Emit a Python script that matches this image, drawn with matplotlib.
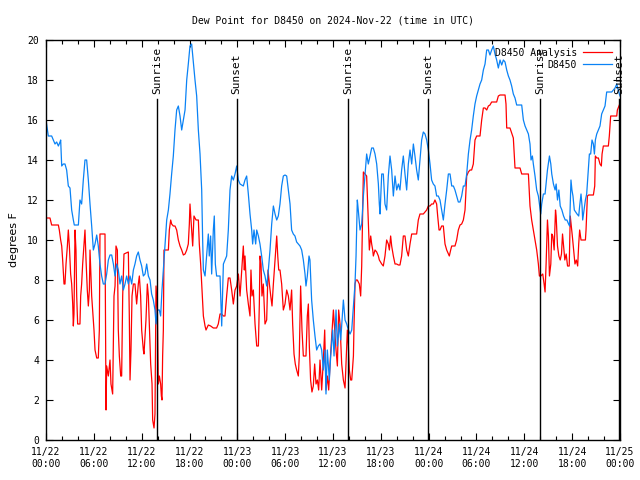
import matplotlib
matplotlib.use("Agg")
import matplotlib.pyplot as plt
from matplotlib.ticker import MultipleLocator

# hours after 2024-11-22 00:00 UTC, dew point in degrees F
obs_hours = [
    0, 0.29, 0.71, 0.92, 1.13, 1.34, 1.55, 1.76, 1.84, 1.97, 2.17, 2.38, 2.59, 2.80, 3.01,
    3.22, 3.43, 3.55, 4.06, 4.26, 4.47, 4.68, 4.89, 5.10, 5.31, 5.52, 5.73, 5.94, 6.15,
    6.36, 6.56, 6.77, 6.98, 7.19, 7.40, 7.61, 7.82, 8.03, 8.24, 8.45, 8.66, 8.86, 9.07,
    9.28, 9.49, 9.70, 9.91, 10.12, 10.33, 10.54, 10.75, 10.96, 11.16, 11.37, 11.58, 11.79,
    12.00, 12.21, 12.42, 12.63, 12.84, 13.05, 13.25, 13.46, 13.67, 13.80, 13.97, 14.22,
    14.38, 14.55, 14.72, 14.93, 15.14, 15.35, 15.55, 15.76, 15.97, 16.18, 16.39, 16.60,
    16.81, 17.02, 17.23, 17.44, 17.65, 17.85, 18.06, 18.27, 18.48, 18.69, 18.90, 19.11,
    19.32, 19.53, 19.65, 19.74, 19.95, 20.15, 20.36, 20.48, 20.65, 20.78, 20.99, 21.11,
    21.24, 21.40, 21.83, 22.04, 22.25, 22.45, 22.66, 22.87, 23.08, 23.29, 23.50, 23.71,
    23.92, 24.13, 24.34, 24.55, 24.75, 24.96, 25.17, 25.38, 25.59, 25.80, 25.92, 26.09,
    26.30, 26.43, 26.64, 26.84, 27.05, 27.26, 27.47, 27.68, 27.89, 28.10, 28.31, 28.52,
    28.73, 28.94, 29.14, 29.35, 29.56, 29.77, 29.98, 30.19, 30.40, 30.61, 30.81, 31.02,
    31.23, 31.44, 31.65, 31.86, 32.07, 32.28, 32.49, 32.61, 32.78, 32.99, 33.11, 33.32,
    33.53, 33.74, 33.95, 34.16, 34.37, 34.58, 34.79, 35.00, 35.12, 35.29, 35.54, 35.71,
    35.96, 36.13, 36.38, 36.55, 36.80, 36.97, 37.30, 37.51, 37.72, 37.93, 38.14, 38.35,
    38.56, 38.76, 38.89, 39.05, 39.17, 39.39, 39.60, 39.81, 40.01, 40.22, 40.43, 40.64,
    40.85, 41.06, 41.27, 41.48, 41.69, 41.81, 41.90, 42.11, 42.31, 42.52, 42.73, 42.94,
    43.15, 43.36, 43.57, 43.78, 43.99, 44.20, 44.40, 44.61, 44.82, 45.03, 45.24, 45.45,
    45.66, 45.87, 46.08, 46.28, 46.49, 46.70, 46.91, 47.12, 47.33, 47.54, 47.75, 47.96,
    48.17, 48.37, 48.58, 48.79, 49.00, 49.21, 49.42, 49.63, 49.84, 50.05, 50.26, 50.47,
    50.68, 50.89, 51.10, 51.30, 51.51, 51.72, 51.93, 52.14, 52.35, 52.56, 52.77, 52.98,
    53.19, 53.39, 53.60, 53.81, 54.02, 54.23, 54.44, 54.65, 54.86, 55.07, 55.28, 55.49,
    55.69, 55.90, 56.11, 56.32, 56.53, 56.74, 56.95, 57.16, 57.37, 57.58, 57.79, 58.00,
    58.20, 58.41, 58.62, 58.83, 59.04, 59.46, 59.67, 59.88, 60.09, 60.30, 60.51, 60.71,
    60.84, 61.01, 61.13, 61.34, 61.55, 61.76, 61.89, 62.06, 62.18, 62.39, 62.60, 62.73,
    62.90, 63.07, 63.15, 63.32, 63.44, 63.65, 63.86, 63.99, 64.16, 64.33, 64.50, 64.71,
    64.92, 65.13, 65.34, 65.55, 65.68, 65.85, 65.97, 66.10, 66.27, 66.44, 66.61, 66.82,
    66.94, 67.11, 67.24, 67.32, 67.49, 67.66, 67.82, 68.03, 68.16, 68.32, 68.49, 68.66,
    68.79, 68.91, 69.08, 69.29, 69.49, 69.70, 69.91, 70.12, 70.33, 70.96, 71.17, 71.38,
    71.59, 71.72, 71.84, 72.0,
]
obs_dewpt = [
    16.0, 15.2, 15.2, 15.0, 14.8, 14.9, 14.7, 14.9, 15.0, 13.7, 13.8, 13.8, 13.5, 12.7, 12.6,
    11.5, 11.0, 10.75, 10.75, 12.0, 11.8, 13.0, 14.0, 14.0, 13.0, 11.8, 10.7, 9.5, 9.8,
    10.25, 9.7, 8.8, 8.2, 7.8, 7.8, 8.3, 9.0, 9.25, 9.25, 8.8, 8.2, 8.8, 8.5,
    7.8, 8.2, 7.5, 7.8, 8.2, 7.8, 8.2, 7.8, 8.5, 8.8, 9.2, 9.4, 9.0,
    8.7, 8.2, 8.3, 8.8, 8.2, 8.0, 7.3, 7.0, 6.5, 5.8, 6.5, 6.5,
    6.2, 7.5, 8.5, 9.8, 11.0, 11.5, 12.3, 13.3, 14.2, 15.5, 16.5, 16.7,
    16.2, 15.5, 16.0, 16.5, 18.0, 18.8, 19.7, 19.8, 18.9, 18.0, 17.2, 15.5,
    14.3, 12.5, 10.0, 8.5, 8.2, 9.2, 10.3, 9.2, 10.2, 8.3, 10.5, 11.2,
    8.8, 8.2, 8.2, 5.7, 8.8, 9.0, 9.2, 10.5, 12.5, 13.2, 13.0, 13.3,
    13.7, 13.0, 12.8, 12.75, 12.7, 13.0, 13.2, 12.3, 11.3, 10.5, 9.8, 10.5,
    9.8, 10.5, 10.2, 9.8, 9.2, 8.5, 8.2, 7.7, 8.5, 9.5, 10.8, 11.7,
    11.3, 11.0, 11.2, 11.8, 12.7, 13.2, 13.25, 13.2, 12.5, 11.8, 10.5, 10.3,
    10.2, 9.9, 9.8, 9.7, 9.5, 9.0, 8.3, 7.7, 8.2, 9.2, 9.0, 7.0,
    6.0, 5.2, 4.5, 4.7, 4.8, 4.5, 3.5, 4.5, 2.3, 4.5, 3.0, 4.2,
    5.5, 4.2, 6.5, 4.7, 5.8, 5.0, 7.0, 6.0, 5.8, 5.5, 5.3, 5.5,
    6.7, 7.8, 9.2, 12.0, 11.5, 10.5, 10.8, 12.2, 13.2, 14.3, 13.8, 14.2,
    14.6, 14.6, 14.3, 13.8, 12.8, 11.8, 11.3, 13.3, 13.3, 11.8, 11.5, 13.2,
    14.2, 13.5, 12.2, 13.2, 12.5, 12.8, 12.5, 13.5, 14.2, 13.3, 12.5, 13.8,
    14.5, 13.8, 14.8, 14.2, 13.5, 13.0, 14.0, 15.0, 15.4, 15.3, 15.0, 14.5,
    13.8, 13.0, 12.8, 12.7, 12.2, 12.2, 12.0, 11.5, 11.0, 11.8, 12.5, 13.3,
    13.3, 12.7, 12.7, 12.5, 12.2, 11.9, 11.9, 12.2, 12.7, 12.7, 13.3, 14.3,
    15.0, 15.5, 16.2, 16.8, 17.2, 17.5, 17.8, 18.0, 18.5, 18.8, 19.5, 19.5,
    19.25, 19.5, 19.7, 19.3, 19.0, 18.6, 19.0, 18.75, 19.0, 18.9, 18.5, 18.2,
    18.0, 17.7, 17.3, 17.1, 16.75, 16.75, 16.75, 16.0, 15.7, 15.5, 15.3, 14.8,
    14.0, 14.2, 13.8, 13.2, 12.5, 12.2, 11.8, 11.3, 11.8, 12.3, 12.3, 12.8,
    13.5, 14.0, 14.2, 13.8, 13.3, 12.8, 12.5, 12.8, 12.0, 12.5, 11.7, 11.5,
    11.2, 11.0, 11.0, 10.8, 10.7, 13.0, 12.5, 12.2, 11.5, 11.4, 11.3, 11.2,
    11.7, 12.3, 11.7, 11.0, 11.5, 12.0, 12.3, 13.5, 14.3, 14.3, 15.0, 14.8,
    14.3, 15.0, 15.3, 15.5, 15.7, 16.3, 16.5, 16.7, 17.4, 17.4, 17.5, 17.6,
    17.8, 17.6, 17.4, 17.2,
]

ana_hours = [
    0, 0.50, 0.71, 1.55, 1.67, 1.84, 1.97, 2.09, 2.26, 2.38, 2.51, 2.68, 2.80, 2.93, 3.09,
    3.22, 3.35, 3.43, 3.51, 3.64, 3.76, 3.85, 3.97, 4.26, 4.35, 4.47, 4.60, 4.77, 4.89,
    5.02, 5.18, 5.31, 5.44, 5.52, 5.73, 5.85, 6.02, 6.15, 6.36, 6.56, 6.69, 6.77, 7.40,
    7.53, 7.61, 7.82, 8.03, 8.15, 8.36, 8.53, 8.66, 8.78, 8.95, 9.07, 9.20, 9.37, 9.49,
    9.62, 9.78, 10.33, 10.45, 10.54, 10.66, 10.79, 10.96, 11.16, 11.37, 11.58, 11.71,
    11.87, 12.00, 12.21, 12.29, 12.42, 12.54, 12.71, 12.84, 12.96, 13.13, 13.30, 13.38,
    13.55, 13.67, 13.80, 13.97, 14.09, 14.22, 14.38, 14.47, 14.55, 14.63, 14.72, 14.80,
    15.35, 15.47, 15.64, 15.76, 15.97, 16.18, 16.39, 16.60, 16.81, 17.02, 17.23, 17.44,
    17.65, 17.85, 17.98, 18.06, 18.27, 18.40, 18.56, 18.82, 19.11, 19.23, 19.40, 19.57,
    19.74, 19.95, 20.07, 20.36, 20.65, 20.99, 21.40, 21.61, 21.83, 22.04, 22.25, 22.45,
    22.66, 22.87, 23.08, 23.29, 23.50, 23.71, 23.92, 24.13, 24.34, 24.55, 24.75, 24.88,
    24.96, 25.17, 25.38, 25.59, 25.71, 25.84, 26.01, 26.22, 26.43, 26.64, 26.76, 26.84,
    26.97, 27.09, 27.26, 27.47, 27.68, 27.85, 28.02, 28.19, 28.35, 28.52, 28.73, 28.94,
    29.07, 29.19, 29.35, 29.56, 29.77, 29.98, 30.19, 30.40, 30.61, 30.81, 30.94, 31.11,
    31.27, 31.44, 31.65, 31.77, 31.94, 32.11, 32.28, 32.49, 32.61, 32.78, 32.91, 33.03,
    33.19, 33.36, 33.53, 33.70, 33.87, 34.04, 34.20, 34.37, 34.58, 34.79, 34.96, 35.12,
    35.29, 35.46, 35.63, 35.84, 36.05, 36.21, 36.38, 36.55, 36.71, 36.88, 37.09, 37.30,
    37.51, 37.63, 37.80, 37.93, 38.05, 38.22, 38.35, 38.56, 38.64, 38.76, 38.89, 39.05,
    39.30, 39.47, 39.60, 39.72, 39.81, 40.01, 40.22, 40.35, 40.47, 40.56, 40.73, 40.85,
    40.98, 41.06, 41.27, 41.48, 41.69, 41.81, 42.11, 42.31, 42.52, 42.73, 42.94, 43.07,
    43.23, 43.36, 43.57, 43.78, 43.99, 44.20, 44.40, 44.61, 44.82, 45.03, 45.24, 45.45,
    45.66, 45.87, 46.49, 46.70, 46.91, 47.33, 47.54, 47.75, 47.96, 48.17, 48.37, 48.58,
    48.79, 49.00, 49.13, 49.30, 49.42, 49.63, 49.84, 50.05, 50.26, 50.47, 50.59, 50.76,
    50.89, 51.30, 51.51, 51.72, 51.93, 52.14, 52.35, 52.56, 52.77, 52.98, 53.19, 53.39,
    53.60, 53.81, 54.02, 54.44, 54.65, 54.86, 55.07, 55.28, 55.49, 55.69, 55.90, 56.53,
    56.74, 56.95, 57.58, 57.70, 57.79, 58.20, 58.62, 58.75, 58.83, 59.46, 59.67, 60.51,
    60.71, 60.92, 61.13, 61.34, 61.55, 61.76, 61.89, 62.06, 62.31, 62.48, 62.60, 62.73,
    62.90, 63.02, 63.15, 63.32, 63.44, 63.57, 63.74, 63.91, 63.99, 64.16, 64.33, 64.50,
    64.66, 64.79, 64.92, 65.08, 65.25, 65.42, 65.63, 65.76, 65.89, 66.02, 66.18, 66.35,
    66.52, 66.69, 66.82, 66.94, 67.11, 67.66, 67.74, 67.91, 68.07, 68.66, 68.83, 68.91,
    69.08, 69.29, 69.49, 69.66, 69.75, 69.91, 70.54, 70.66, 70.83, 71.59, 71.67, 71.92,
]
ana_dewpt = [
    11.1, 11.1, 10.75, 10.75, 10.5, 10.0, 9.7, 9.0, 7.8, 7.8, 8.8, 9.7, 10.5, 9.7, 8.3,
    7.8, 6.8, 5.7, 6.3, 10.5, 9.5, 7.2, 5.8, 5.8, 7.2, 7.8, 8.8, 9.8, 10.5,
    9.0, 7.5, 6.7, 7.5, 9.5, 7.2, 6.5, 5.5, 4.5, 4.1, 4.1, 5.5, 10.3, 10.3,
    1.5, 3.7, 3.2, 4.0, 2.8, 2.3, 7.2, 7.7, 9.7, 9.5, 5.5, 4.2, 3.2, 3.2,
    7.2, 9.3, 9.4, 6.2, 3.0, 4.5, 7.2, 7.8, 7.8, 6.8, 7.8, 8.2,
    7.2, 5.5, 4.5, 4.3, 5.2, 6.0, 7.8, 7.2, 5.8, 3.8, 2.8, 1.0,
    0.6, 1.3, 7.7, 6.5, 2.8, 3.2, 2.8, 2.2, 2.0, 4.2, 5.5, 9.5,
    9.5, 10.5, 11.0, 10.8, 10.7, 10.7, 10.5, 10.0, 9.7, 9.5, 9.25, 9.3,
    9.5, 9.8, 10.8, 11.8, 10.5, 9.7, 11.2, 11.0, 11.0, 9.8, 8.8, 7.5,
    6.2, 5.7, 5.5, 5.75, 5.7, 5.6, 5.6, 5.8, 6.3, 6.3, 6.2, 6.2,
    7.2, 8.1, 8.1, 7.5, 6.8, 7.5, 7.7, 8.3, 7.2, 8.5, 9.7, 8.5,
    9.2, 7.5, 6.8, 6.2, 8.5, 7.2, 7.5, 5.8, 4.7, 4.7, 6.8, 9.2,
    8.8, 7.2, 7.8, 5.8, 6.0, 8.5, 7.8, 7.2, 6.7, 7.8, 9.0, 10.2,
    9.2, 8.5, 8.5, 7.8, 6.5, 6.8, 7.5, 7.2, 6.5, 7.5, 5.8, 4.3,
    3.8, 3.5, 3.2, 4.2, 7.7, 5.5, 4.2, 4.2, 4.2, 6.2, 6.8, 4.7,
    3.0, 2.4, 2.7, 3.8, 2.8, 3.0, 2.5, 4.0, 2.5, 4.0, 5.5, 2.5,
    3.2, 2.5, 3.8, 5.2, 6.5, 5.5, 4.5, 3.7, 6.5, 5.8, 3.8, 3.0,
    2.6, 3.8, 5.5, 4.7, 3.5, 3.0, 3.0, 4.2, 5.8, 7.8, 8.0, 8.0,
    7.8, 7.2, 8.7, 11.5, 13.4, 13.3, 13.2, 11.8, 10.5, 9.5, 10.2, 9.8,
    9.5, 9.2, 9.5, 9.4, 9.2, 9.0, 8.8, 8.7, 9.2, 10.0, 9.8, 9.5,
    10.2, 9.7, 9.2, 8.8, 8.8, 8.75, 8.75, 9.2, 10.2, 10.2, 9.5, 9.2,
    9.8, 10.3, 10.3, 11.0, 11.3, 11.3, 11.4, 11.5, 11.7, 11.7, 11.8, 11.8,
    12.0, 11.8, 11.2, 10.5, 10.5, 10.7, 10.7, 9.8, 9.5, 9.3, 9.2, 9.5,
    9.7, 9.7, 10.0, 10.5, 10.75, 10.8, 11.0, 11.5, 13.2, 13.4, 13.5, 13.5,
    13.8, 15.0, 15.2, 15.2, 16.0, 16.6, 16.6, 16.5, 16.7, 16.75, 16.9, 16.9,
    17.2, 17.25, 17.25, 16.8, 15.6, 15.6, 15.1, 14.2, 13.6, 13.6, 13.3, 13.3,
    11.7, 11.0, 10.5, 10.0, 9.5, 8.8, 8.2, 8.2, 8.3, 7.8, 7.4, 8.8,
    11.0, 10.2, 8.2, 8.8, 10.3, 10.2, 9.5, 11.5, 11.2, 9.7, 9.2, 9.0,
    9.3, 10.3, 9.7, 9.0, 9.3, 8.7, 8.7, 11.2, 10.7, 10.2, 9.5, 8.8,
    9.0, 8.7, 9.8, 10.5, 10.0, 10.0, 10.5, 12.2, 12.25, 12.25, 12.7, 14.2,
    14.1, 14.1, 13.8, 13.7, 14.3, 14.7, 14.7, 15.2, 16.2, 16.2, 16.5, 16.75,
]

sun_hours = [13.95, 23.92, 37.93, 47.95, 61.97, 71.9]
sun_labels = ["Sunrise", "Sunset", "Sunrise", "Sunset", "Sunrise", "Sunset"]

tick_hours = list(range(0, 73, 6))
tick_labels = [
    "11/22\n00:00", "11/22\n06:00", "11/22\n12:00", "11/22\n18:00",
    "11/23\n00:00", "11/23\n06:00", "11/23\n12:00", "11/23\n18:00",
    "11/24\n00:00", "11/24\n06:00", "11/24\n12:00", "11/24\n18:00",
    "11/25\n00:00",
]

MONO = "DejaVu Sans Mono"

fig = plt.figure(figsize=(6.4, 4.8), dpi=100)
ax = fig.add_axes([46 / 640, 40 / 480, 574 / 640, 400 / 480])

ax.plot(ana_hours, ana_dewpt, color="#ff0000", lw=0.9, label="D8450 Analysis")
ax.plot(obs_hours, obs_dewpt, color="#0a82f5", lw=0.9, label="D8450")

for h, name in zip(sun_hours, sun_labels):
    ax.axvline(h, ymin=0, ymax=17.05 / 20, color="black", lw=1.0)
    ax.text(h, 17.3, name, rotation=90, ha="center", va="bottom",
            fontsize=8, family=MONO)

ax.set_xlim(0, 72)
ax.set_ylim(0, 20)
ax.set_xticks(tick_hours)
ax.set_xticklabels(tick_labels, family=MONO, fontsize=7)
ax.xaxis.set_minor_locator(MultipleLocator(2))
ax.yaxis.set_major_locator(MultipleLocator(2))
for lbl in ax.get_yticklabels():
    lbl.set_family(MONO)
    lbl.set_fontsize(7)
ax.tick_params(which="both", direction="in", top=True, right=True, width=0.8)
ax.tick_params(which="major", length=5, pad=5)
ax.tick_params(which="minor", length=3)
for s in ax.spines.values():
    s.set_linewidth(1.0)

ax.set_ylabel("degrees F", fontsize=8, labelpad=6)
ax.set_title("Dew Point for D8450 on 2024-Nov-22 (time in UTC)",
             family=MONO, fontsize=7, pad=12)

ax.legend(loc="upper right", frameon=False, markerfirst=False,
          prop={"family": MONO, "size": 7}, handlelength=3.0,
          borderaxespad=0.6, borderpad=0.2, labelspacing=0.2, handletextpad=0.6)

fig.savefig("out.png", dpi=100)
